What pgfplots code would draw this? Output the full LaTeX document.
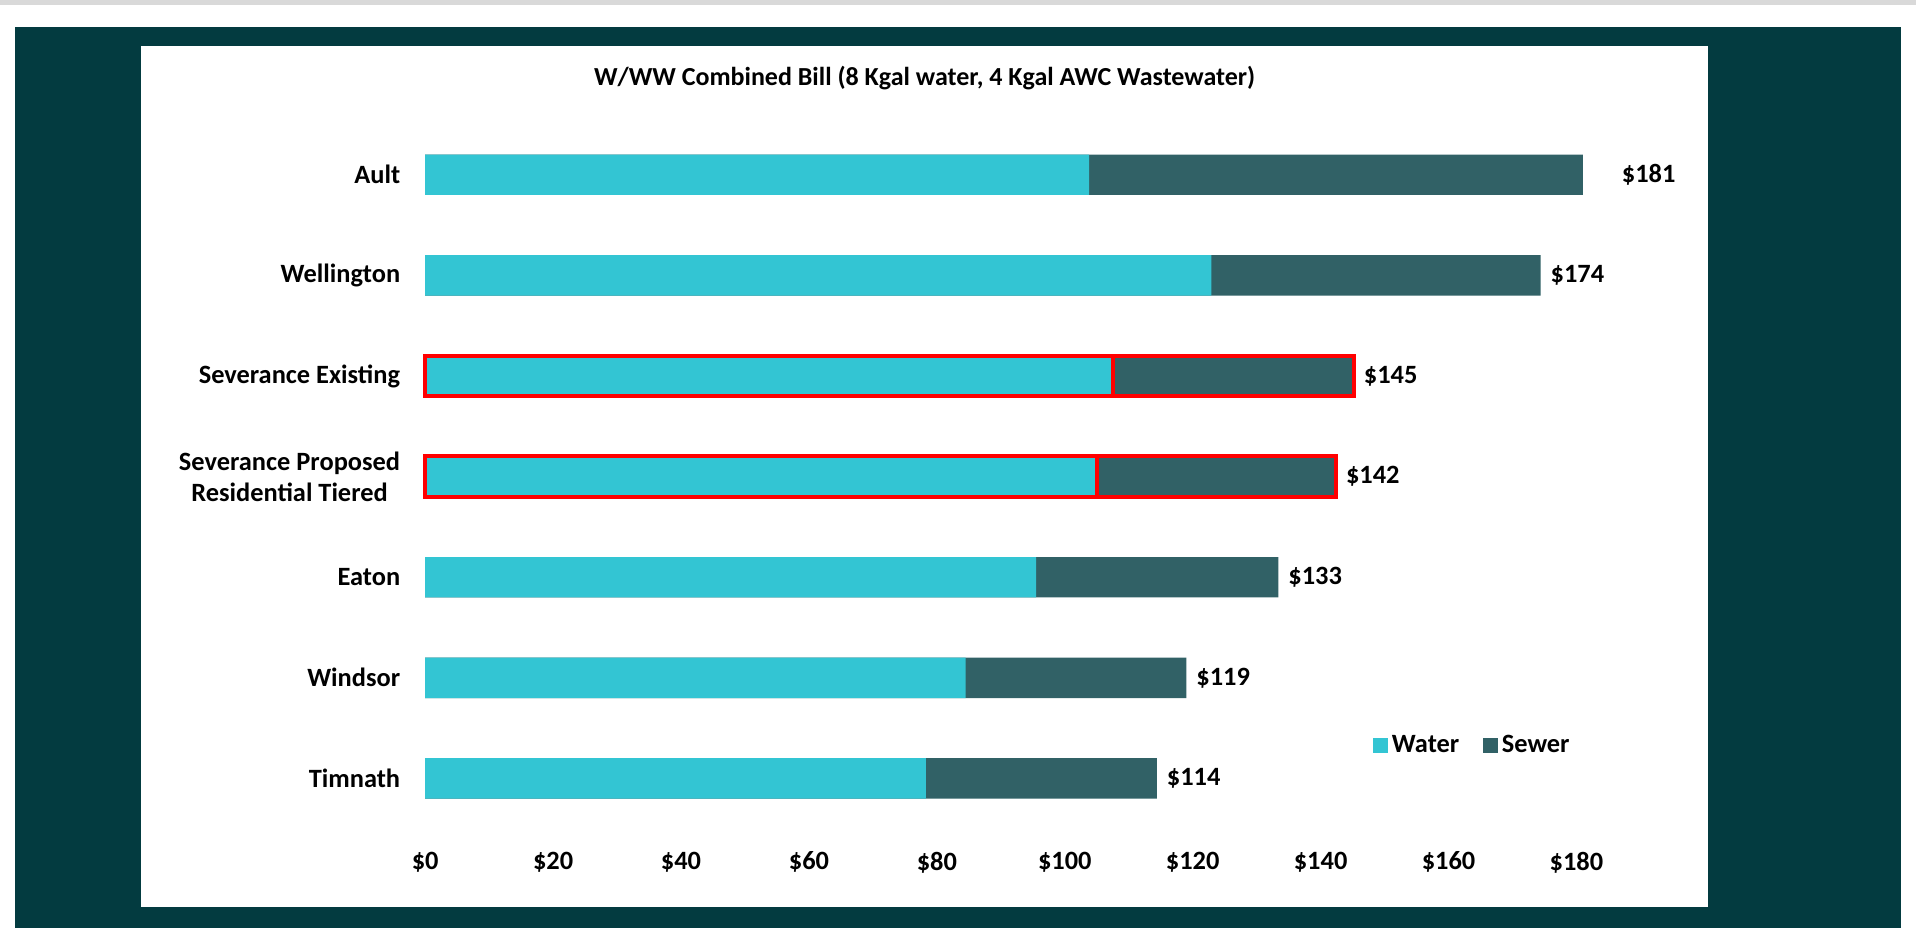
\documentclass[border=0pt]{standalone}
\usepackage{fontspec}
\setmainfont{Carlito}
\usepackage{pgfplots}
\pgfplotsset{compat=1.18}
\definecolor{water}{HTML}{33C5D3}
\definecolor{sewer}{HTML}{316166}
\definecolor{bgteal}{HTML}{033B40}
\definecolor{topgray}{HTML}{D9D9D9}
\begin{document}
\begin{tikzpicture}
\fill[white] (0pt,0pt) rectangle (958pt,464pt);
\fill[topgray] (0pt,461.5pt) rectangle (958pt,464pt);
\fill[bgteal] (7.5pt,0pt) rectangle (950.5pt,450.5pt);
\fill[white] (70.5pt,10.5pt) rectangle (854pt,441pt);
\node[font=\bfseries\fontsize{13}{15}\selectfont] at (462.3pt,424.9pt) {W/WW Combined Bill (8 Kgal water, 4 Kgal AWC Wastewater)};
\begin{axis}[
  at={(212.6pt,49.65pt)}, anchor=south west,
  scale only axis, width=607.6pt, height=367.2pt,
  xmin=0, xmax=190, ymin=-0.5, ymax=6.8,
  axis line style={draw=none}, tick style={draw=none},
  xtick={0,20,...,180},
  xticklabels={\$0,\$20,\$40,\$60,\$80,\$100,\$120,\$140,\$160,\$180},
  ytick={0,...,6},
  yticklabels={Timnath,Windsor,Eaton,{Severance Proposed\\Residential Tiered},Severance Existing,Wellington,Ault},
  yticklabel style={align=center, xshift=-9pt},
  xticklabel style={yshift=-8pt},
  ticklabel style={font=\bfseries\fontsize{13.2}{15.5}\selectfont},
  clip=false,
  legend style={at={(0.775,0.1135)}, anchor=west, draw=none, fill=none,
    legend columns=2, font=\bfseries\fontsize{13.2}{15.5}\selectfont,
    /tikz/every even column/.append style={column sep=10pt}},
  legend image code/.code={\draw[#1,draw=none] (0pt,-3.6pt) rectangle (7.3pt,3.6pt);},
]
\addplot[xbar, bar shift=0pt, bar width=20.2pt, fill=sewer, draw=none, forget plot]
  coordinates {(114.4,0) (119.0,1) (133.4,2) (142.4,3) (145.2,4) (174.4,5) (181.0,6)};
\addplot[xbar, bar shift=0pt, bar width=20.2pt, fill=water, draw=none]
  coordinates {(78.3,0) (84.5,1) (95.5,2) (105.1,3) (107.6,4) (122.9,5) (103.8,6)};
\addlegendentry{Water}
\addlegendimage{fill=sewer, draw=none}
\addlegendentry{Sewer}
\addplot[xbar, bar shift=0pt, bar width=20.2pt, fill=none, draw=red, line width=2pt, forget plot]
  coordinates {(142.4,3) (145.2,4)};
\addplot[xbar, bar shift=0pt, bar width=20.2pt, fill=none, draw=red, line width=2pt, forget plot]
  coordinates {(105.1,3) (107.6,4)};
\begin{scope}[every node/.style={anchor=west, font=\bfseries\fontsize{13.2}{15.5}\selectfont}]
\node[xshift=16pt] at (axis cs:181.0,6) {\$181};
\node[xshift=1.5pt] at (axis cs:174.4,5) {\$174};
\node[xshift=1.5pt] at (axis cs:145.2,4) {\$145};
\node[xshift=1.5pt] at (axis cs:142.4,3) {\$142};
\node[xshift=1.5pt] at (axis cs:133.4,2) {\$133};
\node[xshift=1.5pt] at (axis cs:119.0,1) {\$119};
\node[xshift=1.5pt] at (axis cs:114.4,0) {\$114};
\end{scope}
\end{axis}
\end{tikzpicture}
\end{document}
